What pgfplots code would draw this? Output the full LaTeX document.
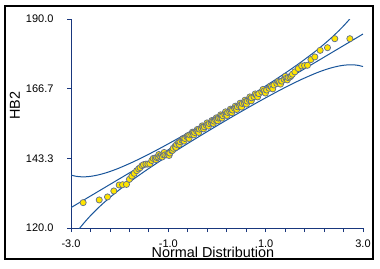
\documentclass[border=0pt]{standalone}
\usepackage{fontspec}
\setmainfont{Liberation Sans}
\usepackage{pgfplots}
\pgfplotsset{compat=1.18}
\definecolor{axiscol}{RGB}{25,55,125}
\definecolor{linecol}{RGB}{25,85,155}
\definecolor{markfill}{RGB}{255,228,0}
\definecolor{markdraw}{RGB}{95,110,140}
\pgfplotstableread{
x y
-2.75 128.5
-2.42 129.4
-2.25 130.4
-2.12 132.4
-2.01 134.4
-1.94 134.5
-1.86 134.6
-1.80 136.3
-1.75 137.4
-1.70 138.3
-1.65 139.2
-1.61 139.8
-1.58 140.2
-1.54 140.9
-1.51 141.2
-1.46 141.4
-1.42 141.4
-1.38 141.5
-1.34 142.6
-1.31 143.3
-1.27 143.4
-1.255 142.9
-1.24 143.6
-1.21 143.8
-1.195 144.6
-1.17 144.1
-1.14 144.4
-1.125 143.8
-1.10 144.5
-1.085 145.3
-1.07 144.5
-1.03 144.5
-1.00 144.8
-0.985 144.3
-0.97 145.1
-0.93 145.9
-0.915 146.0
-0.90 146.7
-0.86 147.4
-0.845 147.0
-0.83 148.0
-0.79 148.5
-0.775 148.0
-0.76 148.9
-0.72 149.4
-0.705 149.9
-0.69 149.9
-0.675 149.1
-0.66 150.0
-0.62 150.6
-0.605 150.9
-0.59 150.7
-0.575 150.0
-0.56 151.2
-0.52 151.4
-0.505 152.1
-0.49 151.9
-0.475 151.2
-0.46 152.0
-0.42 152.5
-0.405 153.0
-0.39 152.6
-0.375 152.0
-0.36 153.1
-0.32 153.3
-0.305 154.2
-0.29 153.8
-0.275 153.2
-0.26 153.9
-0.22 154.4
-0.205 155.2
-0.19 154.6
-0.175 154.1
-0.16 155.0
-0.12 155.3
-0.105 156.0
-0.09 155.7
-0.075 155.0
-0.06 155.8
-0.03 156.3
-0.015 156.9
0.00 156.5
0.015 155.9
0.03 156.8
0.06 157.0
0.075 157.9
0.09 157.5
0.105 156.8
0.12 157.6
0.16 158.1
0.175 158.9
0.19 158.3
0.205 157.7
0.22 158.7
0.26 159.0
0.275 159.8
0.29 159.4
0.305 158.6
0.32 159.5
0.36 160.1
0.375 160.8
0.39 160.3
0.405 159.7
0.42 160.6
0.46 161.0
0.475 161.8
0.49 161.2
0.505 160.5
0.52 161.7
0.56 161.9
0.575 162.8
0.59 162.3
0.605 161.5
0.62 162.5
0.66 163.0
0.675 163.9
0.69 163.3
0.705 162.6
0.71 163.6
0.76 164.0
0.785 164.9
0.81 164.5
0.835 163.9
0.86 165.0
0.92 165.6
0.945 166.4
0.97 165.9
0.995 165.2
1.02 166.2
1.07 166.8
1.095 167.5
1.12 167.3
1.145 166.6
1.17 167.9
1.23 168.4
1.255 169.1
1.28 168.8
1.305 168.2
1.33 169.2
1.38 169.8
1.405 170.8
1.42 170.1
1.445 169.6
1.46 170.4
1.50 170.6
1.525 171.0
1.55 171.5
1.60 172.3
1.67 173.4
1.74 174.3
1.80 174.4
1.86 174.5
1.93 176.4
2.01 177.3
2.12 179.5
2.27 180.4
2.42 183.4
2.73 183.4
}\pts
\begin{document}
\begin{tikzpicture}[x=1pt,y=1pt]
\useasboundingbox (0,0) rectangle (380,268);
\fill[white] (0,0) rectangle (380,268);
\draw[black, line width=1.3pt] (5,9) rectangle (373,262);
\begin{axis}[
 at={(71pt,40pt)}, anchor=south west,
 scale only axis, width=292pt, height=209pt,
 xmin=-3, xmax=3, ymin=120, ymax=190,
 axis x line=bottom, axis y line=left,
 axis line style={-, draw=axiscol, line width=0.9pt},
 tick style={draw=axiscol, line width=0.8pt},
 tick align=outside,
 major tick length=4pt, minor tick length=4pt,
 xtick={-3,-1,1,3}, xticklabels={-3.0,-1.0,1.0,3.0},
 minor x tick num=4,
 ytick={120,143.333,166.667,190}, yticklabels={120.0,143.3,166.7,190.0},
 minor y tick num=4,
 ticklabel style={font=\fontsize{11}{13}\selectfont, text=black},
 xticklabel style={yshift=-4.5pt},
 yticklabel style={xshift=-10pt},
 xlabel={Normal Distribution}, ylabel={HB2},
 every axis x label/.style={at={(rel axis cs:0.486,-0.115)}, anchor=center, font=\fontsize{14.4}{16}\selectfont},
 every axis y label/.style={at={(rel axis cs:-0.192,0.584)}, anchor=center, rotate=90, font=\fontsize{14.4}{16}\selectfont},
 clip=true,
]
\addplot[linecol, line width=1pt] coordinates {(-3,126.83) (3,184.97)};
\addplot[linecol, line width=1pt, smooth] coordinates {
(-3,137.73) (-2.9,137.33) (-2.8,137.16) (-2.7,137.15) (-2.6,137.30) (-2.5,137.57) (-2.4,137.94) (-2.3,138.39) (-2.2,138.92) (-2.1,139.51) (-2.0,140.15) (-1.75,141.93) (-1.5,143.90) (-1.25,146.00) (-1.0,148.20) (-0.75,150.46) (-0.5,152.78) (-0.25,155.14) (0,157.55) (0.25,159.99) (0.5,162.47) (0.75,165.00) (1.0,167.58) (1.25,170.23) (1.5,172.97) (1.75,175.85) (2.0,178.91) (2.1,180.21) (2.2,181.56) (2.3,182.97) (2.4,184.46) (2.5,186.02) (2.6,187.69) (2.7,189.48) (2.8,191.42) (2.9,193.53) (3.0,195.87)};
\addplot[linecol, line width=1pt, smooth] coordinates {
(-3,115.94) (-2.9,118.27) (-2.8,120.38) (-2.7,122.32) (-2.6,124.12) (-2.5,125.78) (-2.4,127.35) (-2.3,128.83) (-2.2,130.24) (-2.1,131.59) (-2.0,132.89) (-1.75,135.95) (-1.5,138.83) (-1.25,141.58) (-1.0,144.22) (-0.75,146.80) (-0.5,149.33) (-0.25,151.81) (0,154.25) (0.25,156.66) (0.5,159.02) (0.75,161.34) (1.0,163.60) (1.25,165.80) (1.5,167.90) (1.75,169.87) (2.0,171.65) (2.1,172.29) (2.2,172.88) (2.3,173.41) (2.4,173.86) (2.5,174.23) (2.6,174.50) (2.7,174.64) (2.8,174.65) (2.9,174.47) (3.0,174.08)};
\addplot[only marks, mark=*, mark size=3.1pt, mark options={fill=markfill, draw=markdraw, line width=0.7pt}] table[x=x,y=y] {\pts};
\end{axis}
\end{tikzpicture}
\end{document}
